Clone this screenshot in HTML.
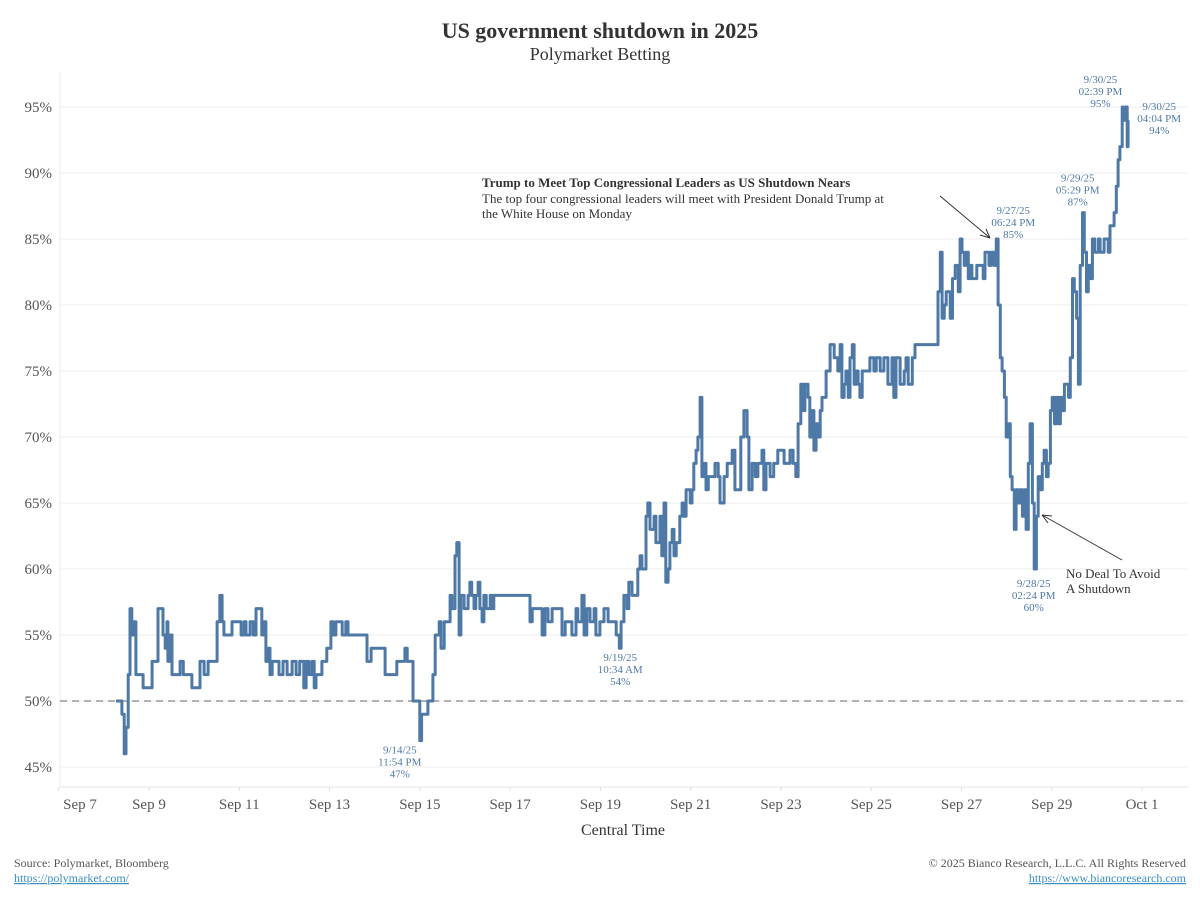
<!DOCTYPE html>
<html><head><meta charset="utf-8">
<style>
html,body{margin:0;padding:0;background:#fff;}
body{width:1200px;height:900px;overflow:hidden;font-family:"Liberation Serif",serif;}
svg text{font-family:"Liberation Serif",serif;}
</style></head>
<body>
<svg id="chart" width="1200" height="900" xmlns="http://www.w3.org/2000/svg">
<text x="600" y="38" text-anchor="middle" font-size="22" font-weight="bold" fill="#333">US government shutdown in 2025</text>
<text x="600" y="60" text-anchor="middle" font-size="18" fill="#333">Polymarket Betting</text>
<g id="grid"></g>
<g id="yaxis"></g>
<g id="xaxis"></g>
<line id="ref50" x1="60" x2="1188" stroke="#999" stroke-width="1.5" stroke-dasharray="7,5"/>
<path id="series" fill="none" stroke="#4e79a7" stroke-width="3" stroke-linejoin="round"/>
<g id="labels"></g>
<text x="623" y="835" text-anchor="middle" font-size="16" fill="#333">Central Time</text>
<g>
<text x="482" y="187" font-size="13" font-weight="bold" fill="#333">Trump to Meet Top Congressional Leaders as US Shutdown Nears</text>
<text x="482" y="203" font-size="13" fill="#333">The top four congressional leaders will meet with President Donald Trump at</text>
<text x="482" y="218" font-size="13" fill="#333">the White House on Monday</text>
<line x1="940" y1="196" x2="990" y2="238" stroke="#333" stroke-width="1"/>
<path d="M990 238 L980 235 M990 238 L986 229" stroke="#333" fill="none"/>
</g>
<g>
<text x="1066" y="578" font-size="13" fill="#333">No Deal To Avoid</text>
<text x="1066" y="593" font-size="13" fill="#333">A Shutdown</text>
<line x1="1122" y1="560" x2="1042" y2="515" stroke="#333" stroke-width="1"/>
<path d="M1042 515 L1052 516 M1042 515 L1048 523" stroke="#333" fill="none"/>
</g>
<text x="14" y="867" font-size="12" fill="#555">Source: Polymarket, Bloomberg</text>
<text x="14" y="882" font-size="12" fill="#3b8dbd" text-decoration="underline">https://polymarket.com/</text>
<text x="1186" y="867" text-anchor="end" font-size="12" fill="#555">© 2025 Bianco Research, L.L.C. All Rights Reserved</text>
<text x="1186" y="882" text-anchor="end" font-size="12" fill="#3b8dbd" text-decoration="underline">https://www.biancoresearch.com</text>
</svg>
<script>
// days since Sep 7 00:00 CT
const times=[1.27,1.38,1.40,1.45,1.49,1.54,1.58,1.62,1.67,1.71,1.80,1.87,2.02,2.07,2.18,2.20,2.29,2.31,2.36,2.40,2.42,2.47,2.51,2.64,2.69,2.76,2.93,2.95,3.11,3.13,3.22,3.31,3.49,3.51,3.57,3.62,3.66,3.84,4.02,4.04,4.11,4.15,4.24,4.31,4.37,4.46,4.50,4.55,4.59,4.64,4.68,4.73,4.81,4.88,4.97,5.06,5.17,5.26,5.34,5.43,5.48,5.54,5.61,5.66,5.70,5.83,5.94,6.03,6.08,6.14,6.23,6.28,6.36,6.41,6.79,6.83,6.92,7.21,7.23,7.43,7.49,7.60,7.67,7.72,7.76,7.85,8.00,8.04,8.14,8.18,8.25,8.29,8.34,8.43,8.47,8.54,8.60,8.67,8.71,8.78,8.82,8.87,8.91,8.98,9.07,9.11,9.15,9.20,9.24,9.29,9.33,9.38,9.42,9.47,9.56,9.60,9.64,10.40,10.44,10.49,10.66,10.71,10.77,10.84,10.93,11.10,11.15,11.22,11.33,11.37,11.46,11.50,11.59,11.64,11.70,11.77,11.86,11.90,11.99,12.08,12.17,12.30,12.35,12.42,12.46,12.52,12.59,12.63,12.70,12.79,12.83,12.88,12.92,13.01,13.05,13.10,13.19,13.23,13.32,13.36,13.41,13.45,13.50,13.54,13.59,13.63,13.68,13.76,13.81,13.85,13.90,13.99,14.03,14.07,14.12,14.16,14.21,14.25,14.30,14.34,14.39,14.47,14.54,14.61,14.65,14.74,14.81,14.87,14.92,14.98,15.05,15.11,15.18,15.25,15.29,15.36,15.43,15.49,15.58,15.62,15.67,15.76,15.84,15.93,16.07,16.20,16.27,16.33,16.38,16.44,16.49,16.53,16.60,16.64,16.69,16.73,16.78,16.82,16.87,16.91,17.00,17.09,17.18,17.26,17.31,17.35,17.40,17.44,17.49,17.53,17.58,17.62,17.66,17.71,17.75,17.80,17.97,18.06,18.11,18.20,18.28,18.37,18.46,18.50,18.55,18.64,18.73,18.77,18.82,18.91,18.97,19.48,19.53,19.57,19.62,19.66,19.75,19.80,19.86,19.93,19.97,20.01,20.06,20.10,20.15,20.19,20.23,20.34,20.43,20.48,20.52,20.61,20.66,20.72,20.77,20.81,20.86,20.90,20.95,20.99,21.04,21.08,21.12,21.17,21.21,21.26,21.30,21.35,21.39,21.43,21.48,21.52,21.57,21.61,21.66,21.70,21.75,21.79,21.83,21.88,21.92,21.97,22.01,22.06,22.10,22.15,22.19,22.23,22.28,22.37,22.41,22.46,22.50,22.55,22.59,22.63,22.68,22.72,22.77,22.81,22.86,22.90,22.95,23.03,23.07,23.16,23.25,23.29,23.38,23.43,23.47,23.51,23.56,23.58,23.63,23.67,23.69];
const values=[50,50,49,46,48,52,57,55,56,52,52,51,51,53,53,57,57,55,54,56,53,55,52,52,53,52,52,51,51,53,52,53,53,56,58,56,55,56,56,55,56,55,56,55,57,57,55,56,53,54,52,53,53,52,53,52,53,52,53,51,53,52,53,51,52,53,54,56,55,56,56,55,56,55,55,53,54,54,52,52,53,53,54,53,53,50,47,49,49,50,50,52,55,56,54,56,56,58,57,61,62,55,58,57,58,59,58,57,58,59,57,56,58,57,58,57,58,58,56,57,57,55,57,56,57,57,55,56,56,55,57,56,58,55,57,56,57,55,56,57,56,56,55,54,56,58,57,59,58,58,60,61,60,64,65,63,64,62,64,61,65,59,60,62,63,61,62,64,65,64,66,65,66,68,69,70,73,67,68,66,67,67,68,67,65,67,68,68,69,66,66,70,72,70,66,68,67,68,69,66,68,67,68,69,68,69,68,67,71,74,72,74,73,70,72,69,71,70,72,73,75,77,76,75,77,73,74,75,73,76,77,74,75,74,73,75,76,75,76,75,76,74,76,73,76,74,75,76,74,76,77,81,84,79,80,81,79,82,83,81,85,84,83,84,82,83,82,83,83,82,84,83,84,83,85,80,76,75,73,70,71,67,66,63,66,65,66,64,66,63,68,71,65,60,64,67,66,68,69,67,68,72,73,71,73,71,73,72,74,73,76,82,81,79,74,83,87,84,81,83,82,85,84,85,84,85,84,86,87,89,91,92,95,94,95,92,94];
const yTicks=[45,50,55,60,65,70,75,80,85,90,95];
const xTickDays=[0,2,4,6,8,10,12,14,16,18,20,22,24];
const xTickLabels=["Sep 7","Sep 9","Sep 11","Sep 13","Sep 15","Sep 17","Sep 19","Sep 21","Sep 23","Sep 25","Sep 27","Sep 29","Oct 1"];
const noteDays=[8.00,12.44,20.77,21.60,22.73,23.61,23.67];
const noteVals=[47,54,85,60,87,95,94];
const noteTexts=[["9/14/25","11:54 PM","47%"],["9/19/25","10:34 AM","54%"],["9/27/25","06:24 PM","85%"],["9/28/25","02:24 PM","60%"],["9/29/25","05:29 PM","87%"],["9/30/25","02:39 PM","95%"],["9/30/25","04:04 PM","94%"]];
const noteDx=[-20,0,17,0,-7,-24,32];
const noteDy=[13,13,-25,18,-31,-24,-10];

const X=d=>58.7+d*45.14;
const Y=v=>767-(v-45)*13.2;
const NS="http://www.w3.org/2000/svg";
function mk(tag,parent,attrs){const e=document.createElementNS(NS,tag);for(const k in attrs)e.setAttribute(k,attrs[k]);parent.appendChild(e);return e;}
const grid=document.getElementById('grid'),ya=document.getElementById('yaxis'),xa=document.getElementById('xaxis');
yTicks.forEach(t=>{
  const l=mk('line',grid,{x1:60,x2:1188,y1:Y(t),y2:Y(t),stroke:'#eeeeee','stroke-width':1});
  
  
  const tx=mk('text',ya,{x:52,y:Y(t)+5,'text-anchor':'end','font-size':15,fill:'#555'});
  tx.textContent=t+'%';
  
  
});
mk('line',grid,{x1:60,x2:60,y1:72,y2:787,stroke:'#eeeeee'});
mk('line',grid,{x1:60,x2:1188,y1:787,y2:787,stroke:'#e4e4e4'});
xTickDays.forEach((d,i)=>{
  let x=X(d); if(x<80) x=80;
  mk('line',xa,{x1:X(d),x2:X(d),y1:787,y2:791,stroke:'#ddd'});
  const tx=mk('text',xa,{x:x,y:809,'text-anchor':'middle','font-size':15,fill:'#555'});
  tx.textContent=xTickLabels[i];
  
  
});
const r=document.getElementById('ref50');r.setAttribute('y1',Y(50));r.setAttribute('y2',Y(50));
let d='M'+X(times[0])+' '+Y(values[0]);
for(let i=1;i<times.length;i++){d+=' H'+X(times[i]).toFixed(1)+' V'+Y(values[i]).toFixed(1);}
document.getElementById('series').setAttribute('d',d);
const lab=document.getElementById('labels');
noteDays.forEach((nd,i)=>{
  const g=mk('g',lab,{});
  
  
  const cx=X(nd)+noteDx[i], cy=Y(noteVals[i])+noteDy[i];
  noteTexts[i].forEach((s,j)=>{
    const t=mk('text',g,{x:cx,y:cy+j*12,'text-anchor':'middle','font-size':11,fill:'#4e79a7'});
    t.textContent=s;
  });
});
</script>
</body></html>
